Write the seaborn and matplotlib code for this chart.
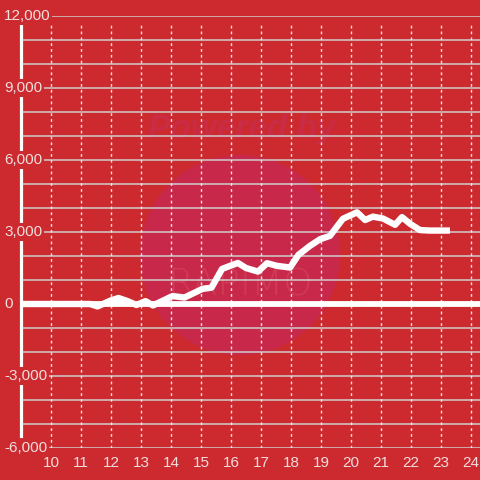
import matplotlib
matplotlib.use("Agg")
import matplotlib.pyplot as plt
import matplotlib.transforms as mtransforms
from matplotlib.patches import Circle
import numpy as np
import pandas as pd
import seaborn as sns

# ---- data ----
hours = [9.0, 11.3, 11.55, 12.0, 12.25, 12.55, 12.85, 13.15, 13.4, 14.05, 14.45,
         15.05, 15.35, 15.7, 15.97, 16.23, 16.5, 16.9, 17.2, 17.53, 17.97, 18.25,
         18.63, 18.97, 19.3, 19.73, 20.2, 20.47, 20.73, 21.07, 21.47, 21.7, 21.97,
         22.3, 22.63, 23.3]
values = [0, 0, -100, 150, 250, 120, -40, 120, -60, 330, 270,
          630, 680, 1460, 1590, 1710, 1500, 1350, 1700, 1590, 1520, 2050,
          2420, 2700, 2840, 3550, 3820, 3500, 3640, 3560, 3300, 3620, 3340,
          3080, 3060, 3060]
x_ticks = list(range(10, 25))
y_ticks_major = [-6000, -3000, 0, 3000, 6000, 9000, 12000]
y_ticks_minor = list(range(-6000, 12001, 1000))

BG = "#CC2A2F"
TXT = "#F2DEDE"

sns.set_theme(style="white")
plt.rcParams["font.family"] = ["Liberation Sans", "DejaVu Sans"]

fig = plt.figure(figsize=(4.8, 4.8), dpi=100, facecolor=BG)
ax = fig.add_axes([21 / 480, 32 / 480, 1 - 21 / 480, 432 / 480])
ax.set_facecolor(BG)
ax.set_xlim(9, 24.3)
ax.set_ylim(-6000, 12000)

# watermark circle + text
ax.add_patch(Circle((240 / 480, 1 - 255 / 480), 100 / 480, transform=fig.transFigure,
                    facecolor="#C8284A", edgecolor="none", zorder=0.5))
ax.text(242 / 480, 1 - 130 / 480, "Powered by", transform=fig.transFigure,
        ha="center", va="center", fontsize=24, fontweight="bold", style="italic",
        color="#C92C44", zorder=0.6)
ax.text(240 / 480, 1 - 285 / 480, "RAPIMO", transform=fig.transFigure, ha="center",
        va="center", fontsize=27, color="#CF3A55", zorder=0.6, family="DejaVu Sans",
        fontweight="light")

# horizontal grid
for yv in y_ticks_minor:
    ax.axhline(yv, color="#CFCFCF", lw=1.1, zorder=1)
# vertical dashed grid
ax.vlines(x_ticks, -6000, 11700, colors="#EDE5E5", lw=1.0, linestyles=(0, (2, 2.2)), zorder=1)

# zero line
ax.axhline(0, color="white", lw=4.2, zorder=2)

df = pd.DataFrame({"hour": hours, "value": values})
sns.lineplot(data=df, x="hour", y="value", ax=ax, color="white", lw=4.6,
             zorder=3, sort=False, estimator=None)
for ln in ax.lines[-1:]:
    ln.set_solid_joinstyle("round")
    ln.set_solid_capstyle("butt")

# spines
for s in ["top", "right", "bottom"]:
    ax.spines[s].set_visible(False)
ax.spines["left"].set_color("white")
ax.spines["left"].set_linewidth(2.3)
ax.spines["left"].set_bounds(-5500, 11650)
ax.spines["left"].set_zorder(2.4)

ax.set_xlabel("")
ax.set_ylabel("")
ax.set_xticks(x_ticks)
ax.set_xticklabels([str(v) for v in x_ticks], fontsize=11, color=TXT)
ax.tick_params(axis="x", length=0, pad=6)
ax.set_yticks([])

trans = mtransforms.blended_transform_factory(fig.transFigure, ax.transData)
for yv in y_ticks_major:
    ax.text(4 / 480, yv, f"{yv:,}", transform=trans, ha="left", va="center",
            fontsize=11, color=TXT, zorder=5,
            bbox=dict(facecolor=BG, edgecolor="none", pad=1.2))

fig.savefig("out.png", dpi=100, facecolor=BG)
